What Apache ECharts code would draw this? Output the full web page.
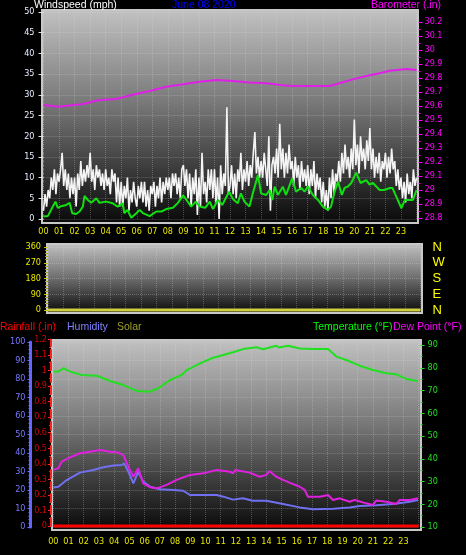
<!DOCTYPE html>
<html><head><meta charset="utf-8">
<script src="https://cdn.jsdelivr.net/npm/echarts@6/dist/echarts.min.js"></script>
<style>html,body{margin:0;padding:0;background:#000;}#c{width:466px;height:555px;}</style>
</head><body><div id="c"></div>
<script>
// ---------- DATA ----------
const hourLabels = ['00','01','02','03','04','05','06','07','08','09','10','11','12','13','14','15','16','17','18','19','20','21','22','23'];

// wind speed (mph), one sample every 6 minutes from 00:00 to 24:00
const windSpeed = [
 2,6,3,7,5,10,7,12,6,11,
 9,12,16,8,12,7,11,5,10,6,
 10,3,11,7,14,8,12,9,13,10,
 16,9,12,7,13,10,12,8,11,7,
 12,8,10,6,12,9,11,4,10,3,
 9,3,8,5,10,2,7,4,9,5,
 3,8,5,9,4,9,3,7,2,8,
 6,9,3,8,5,10,4,9,6,10,
 7,10,5,11,8,11,6,10,5,12,
 13,8,12,5,11,3,10,6,12,1,
 10,3,16,6,9,4,12,7,12,5,
 12,4,10,0,13,6,11,8,27,6,
 8,13,6,11,5,12,9,16,7,12,
 9,14,8,13,10,16,21,11,15,10,
 14,10,16,12,8,20,2,13,15,11,
 17,10,23,12,17,10,16,11,18,12,
 14,8,15,10,13,7,14,9,12,8,
 13,6,12,8,14,5,11,7,10,4,
 9,3,7,2,10,5,12,6,11,9,
 14,9,16,11,18,12,15,10,17,12,
 24,13,18,11,20,14,17,12,19,14,
 22,12,17,10,15,11,16,9,14,12,
 16,10,15,11,17,12,14,8,12,7,
 10,5,9,4,11,6,9,5,12,8,
 10
];

// average wind (mph) [hour, value]
const windAvg = [[0,0.6],[0.28,0.7],[0.6,3.0],[0.77,4.2],[0.92,2.7],[1.07,3.0],[1.46,3.4],[1.68,3.9],[1.85,1.4],[2.1,1.2],[2.32,1.8],[2.53,3.0],[2.64,5.6],[2.85,4.6],[3.07,3.9],[3.4,5.0],[3.6,3.9],[4.04,4.2],[4.45,3.8],[4.77,3.0],[5.1,3.8],[5.2,1.4],[5.4,2.2],[5.65,0.3],[5.97,1.4],[6.19,2.2],[6.4,1.4],[6.83,0.7],[7.26,1.8],[7.58,1.8],[7.9,2.4],[8.33,2.7],[8.65,3.9],[8.98,5.7],[9.2,4.6],[9.5,3.0],[9.8,4.2],[10.05,3.0],[10.4,2.7],[10.7,4.2],[10.9,2.4],[11.23,4.6],[11.5,3.4],[11.94,6.6],[12.2,4.8],[12.5,3.8],[12.7,6.2],[12.93,4.2],[13.25,3.0],[13.47,6.2],[13.8,10.6],[14.0,6.2],[14.33,5.8],[14.55,7.0],[14.72,4.6],[14.87,7.8],[15.08,5.8],[15.4,7.8],[15.6,5.8],[16.0,9.8],[16.25,6.6],[16.58,7.5],[16.8,6.6],[17.01,7.9],[17.33,5.8],[17.66,4.6],[17.98,3.0],[18.3,2.2],[18.5,3.0],[18.73,6.6],[18.95,9.0],[19.2,5.8],[19.37,7.5],[19.6,7.9],[19.8,8.7],[20.12,11.2],[20.4,8.7],[20.77,9.4],[20.98,8.3],[21.2,8.7],[21.63,7.0],[21.9,7.0],[22.3,7.5],[22.45,7.5],[22.7,5.4],[23.03,2.6],[23.25,4.6],[23.56,4.6],[23.77,4.6],[24,7.0]];

// barometer (in) [hour, value]
const barometer = [[0,29.607],[0.92,29.595],[2.53,29.614],[3.6,29.643],[4.68,29.65],[5.75,29.68],[6.83,29.707],[7.9,29.738],[8.98,29.755],[10.05,29.774],[11.13,29.786],[12.18,29.778],[13.25,29.767],[14.33,29.762],[15.4,29.748],[16.04,29.743],[17.0,29.743],[17.54,29.743],[18.4,29.743],[19.05,29.762],[19.9,29.79],[20.77,29.814],[21.63,29.834],[22.27,29.852],[23.35,29.864],[24,29.858]];

// wind direction (deg) [hour, value]
const windDir = [[0,0],[24,0]];

// temperature (F) [hour, value]
const temperature = [[0,78.3],[0.33,78.3],[0.66,79.8],[1.1,78.3],[1.87,76.8],[2.85,76.5],[3.73,74.2],[4.6,72.4],[5.48,69.8],[6.35,69.5],[6.9,71.0],[7.67,74.6],[8.44,76.8],[8.77,79.0],[9.64,81.9],[10.5,84.4],[11.17,85.6],[11.8,86.8],[12.46,88.2],[13.34,89.0],[13.78,88.1],[14.65,89.7],[14.8,88.9],[15.42,89.7],[16.19,88.5],[17.06,88.2],[18.05,88.2],[18.6,84.9],[19.25,83.4],[20.13,80.9],[21.0,79.0],[21.88,77.6],[22.54,77.1],[23.19,75.1],[23.96,74.2]];

// dew point (F) [hour, value]
const dewPoint = [[0,35.1],[0.33,35.8],[0.55,38.7],[1.1,40.6],[1.75,42.4],[2.4,43.1],[3.07,43.8],[3.73,43.1],[4.27,42.7],[4.6,41.6],[4.93,36.5],[5.26,32.1],[5.58,35.8],[5.91,29.2],[6.35,27.5],[6.79,27.0],[7.45,28.5],[8.1,30.7],[8.98,32.9],[9.86,33.6],[10.74,35.1],[11.6,34.3],[11.8,33.6],[11.97,35.1],[12.9,33.9],[13.56,32.1],[14.0,32.9],[14.2,34.6],[14.65,32.1],[15.09,30.7],[15.64,29.2],[16.19,27.7],[16.52,26.3],[16.73,23.3],[17.5,23.3],[18.05,24.1],[18.38,21.9],[18.81,22.6],[19.47,21.1],[19.8,21.9],[20.56,20.4],[21.0,19.7],[21.22,21.6],[21.88,21.1],[22.54,20.1],[22.76,21.9],[23.42,21.9],[23.96,22.6]];

// humidity (%) [hour, value]
const humidity = [[0,21.3],[0.33,21.8],[0.88,25.4],[1.75,29.4],[2.63,30.8],[3.29,32.3],[3.94,33.2],[4.49,33.5],[4.65,34.4],[4.93,29.9],[5.26,23.6],[5.58,29.9],[5.91,24.5],[6.35,21.8],[7.0,20.4],[7.88,20.0],[8.54,19.6],[8.98,17.3],[10.08,17.3],[10.73,17.3],[11.17,16.4],[11.8,14.8],[12.46,15.5],[13.1,14.2],[14.0,14.2],[15.09,12.4],[16.19,10.6],[17.06,9.6],[18.38,9.9],[19.47,10.6],[20.13,11.4],[21.22,11.7],[22.32,12.4],[23.42,13.7],[23.96,14.6]];

// rainfall (in) [hour, value]
const rainfall = [[0,0],[24,0]];

const compass = {0:'N',90:'E',180:'S',270:'W',360:'N'};

// ---------- CHART ----------
const chart = echarts.init(document.getElementById('c'), null, {renderer:'canvas'});
const NARROW = "'Liberation Sans Narrow','DejaVu Sans Condensed',sans-serif";
const SANS = "'Liberation Sans',Arial,sans-serif";
const grad = () => new echarts.graphic.LinearGradient(0,0,0,1,[
  {offset:0,color:'#c2c2c2'},{offset:0.45,color:'#767676'},{offset:1,color:'#080808'}]);
const split = {show:true,lineStyle:{color:'rgba(225,225,225,0.28)',type:'dotted',width:1}};
const hideAxis = (gi) => ({type:'value',gridIndex:gi,min:0,max:24,interval:1,show:false,axisLine:{onZero:false}});
const hourAxis = (gi, margin) => ({type:'value',gridIndex:gi,min:0,max:24,interval:1,
  axisLine:{show:false,onZero:false},axisTick:{show:false},splitLine:split,
  axisLabel:{color:'#e8e800',fontSize:9,fontFamily:NARROW,margin:margin,
    formatter:v=> v<24 ? hourLabels[Math.round(v)] : ''}});
const txt = (t,x,y,color,size,align) => ({type:'text',x:x,y:y,z:100,
  style:{text:t,fill:color,font:(size||10.5)+'px '+SANS,textAlign:align||'left',textVerticalAlign:'middle',verticalAlign:'middle'}});
const fmt1 = v => String(+(+v).toFixed(1));

const grids = [
  {left:43.5,top:12,width:373,height:207},      // 0 wind
  {left:43.5,top:22,width:373,height:196},      // 1 barometer
  {left:48,top:247,width:372.5,height:63},      // 2 direction
  {left:53.3,top:342,width:365.3,height:185},   // 3 humidity
  {left:53.3,top:339.4,width:365.3,height:186.6},// 4 rain
  {left:53.3,top:345,width:365.3,height:182}    // 5 temperature
].map(g=>Object.assign({containLabel:false,outerBoundsMode:'none'},g));

const option = {
  animation:false,
  backgroundColor:'#000',
  grid:grids,
  xAxis:[hourAxis(0,8),hideAxis(1),
    {type:'value',gridIndex:2,min:0,max:24,interval:1,axisLine:{show:false,onZero:false},axisTick:{show:false},axisLabel:{show:false},splitLine:split},
    hourAxis(3,10),hideAxis(4),hideAxis(5)],
  yAxis:[
    {type:'value',gridIndex:0,min:0,max:50,interval:5,axisLine:{show:false,onZero:false},
     axisTick:{show:true,length:5,lineStyle:{color:'#e0e0e0'}},
     minorTick:{show:true,splitNumber:5,length:2,lineStyle:{color:'#c0c0c0'}},
     axisLabel:{color:'#e8ecff',fontSize:9,fontFamily:NARROW,margin:9},splitLine:split},
    {type:'value',gridIndex:1,position:'right',offset:2,min:28.8,max:30.2,interval:0.1,axisLine:{show:false,onZero:false},
     axisTick:{show:true,length:4,lineStyle:{color:'#ff00ff'}},
     minorTick:{show:true,splitNumber:2,length:2,lineStyle:{color:'#ff00ff'}},
     axisLabel:{color:'#ff00ff',fontSize:9,fontFamily:NARROW,margin:6,formatter:fmt1},splitLine:{show:false}},
    {type:'value',gridIndex:2,min:0,max:360,interval:90,axisLine:{show:false,onZero:false},
     axisTick:{show:true,length:4,lineStyle:{color:'#c8c800'}},
     minorTick:{show:true,splitNumber:5,length:3,lineStyle:{color:'#a8a800'}},
     axisLabel:{color:'#e8e800',fontSize:9,fontFamily:NARROW,margin:7},splitLine:split},
    {type:'value',gridIndex:2,position:'right',min:0,max:360,interval:90,axisLine:{show:false,onZero:false},axisTick:{show:false},
     axisLabel:{color:'#ffff00',fontSize:13,fontFamily:SANS,margin:12,formatter:v=>compass[v]||''},splitLine:{show:false}},
    {type:'value',gridIndex:3,position:'left',offset:22.8,min:0,max:100,interval:10,
     axisLine:{show:true,onZero:false,lineStyle:{color:'#6464ff',width:3}},
     axisTick:{show:true,length:3,lineStyle:{color:'#7070ff'}},
     minorTick:{show:true,splitNumber:5,length:2,lineStyle:{color:'#7070ff'}},
     axisLabel:{color:'#7878ff',fontSize:9,fontFamily:NARROW,margin:5},splitLine:split},
    {type:'value',gridIndex:4,position:'left',offset:2.3,min:0,max:1.2,interval:0.1,
     axisLine:{show:true,onZero:false,lineStyle:{color:'#ff2020',width:2,type:'dashed'}},
     axisTick:{show:true,length:3,lineStyle:{color:'#ff2020'}},
     minorTick:{show:true,splitNumber:2,length:2,lineStyle:{color:'#ff2020'}},
     axisLabel:{color:'#d80000',fontSize:9,fontFamily:NARROW,margin:4,formatter:fmt1},splitLine:{show:false}},
    {type:'value',gridIndex:5,position:'right',offset:2,min:10,max:90,interval:10,axisLine:{show:false,onZero:false},
     axisTick:{show:true,length:4,lineStyle:{color:'#20e020'}},
     minorTick:{show:true,splitNumber:2,length:2,lineStyle:{color:'#20e020'}},
     axisLabel:{color:'#20e020',fontSize:9,fontFamily:NARROW,margin:7},splitLine:{show:false}}
  ],
  graphic:{elements:[
    {type:'rect',z:-10,shape:{x:42,y:10,width:376,height:213},style:{fill:grad(),stroke:'#c8c8c8',lineWidth:2}},
    {type:'rect',z:-10,shape:{x:47,y:244,width:375,height:69},style:{fill:grad(),stroke:'#c8c8c8',lineWidth:2}},
    {type:'rect',z:-10,shape:{x:52,y:340,width:369,height:190},style:{fill:grad(),stroke:'#c8c8c8',lineWidth:2}},
    txt('Windspeed (mph)',34,5.5,'#ffffff'),
    txt('June 08 2020',172,5.5,'#0000ff'),
    txt('Barometer (.in)',371,5.5,'#ff00ff'),
    txt('Rainfall (.in)',0,327.5,'#ff0000'),
    txt('Humidity',67,327.5,'#8080ff'),
    txt('Solar',117,327.5,'#a0a028'),
    txt('Temperature (\u00b0F)',313,327.5,'#00ff00'),
    txt('Dew Point (\u00b0F)',393,327.5,'#ff00ff')
  ]},
  series:[
    {name:'Wind Speed',type:'line',xAxisIndex:0,yAxisIndex:0,showSymbol:false,
     data:windSpeed.map((v,i)=>[i/10,v]),lineStyle:{color:'#f4f4f4',width:1.6},itemStyle:{color:'#f4f4f4'}},
    {name:'Wind Avg',type:'line',xAxisIndex:0,yAxisIndex:0,showSymbol:false,
     data:windAvg,lineStyle:{color:'#10e010',width:2},itemStyle:{color:'#10e010'}},
    {name:'Barometer',type:'line',xAxisIndex:1,yAxisIndex:1,showSymbol:false,
     data:barometer,lineStyle:{color:'#e020e8',width:2},itemStyle:{color:'#e020e8'}},
    {name:'Wind Direction',type:'line',xAxisIndex:2,yAxisIndex:2,showSymbol:false,clip:false,
     data:windDir,lineStyle:{color:'#d0d040',width:3},itemStyle:{color:'#d0d040'}},
    {name:'Humidity',type:'line',xAxisIndex:3,yAxisIndex:4,showSymbol:false,
     data:humidity,lineStyle:{color:'#7070f0',width:2},itemStyle:{color:'#7070f0'}},
    {name:'Dew Point',type:'line',xAxisIndex:5,yAxisIndex:6,showSymbol:false,
     data:dewPoint,lineStyle:{color:'#e020e0',width:2},itemStyle:{color:'#e020e0'}},
    {name:'Temperature',type:'line',xAxisIndex:5,yAxisIndex:6,showSymbol:false,
     data:temperature,lineStyle:{color:'#20e020',width:2},itemStyle:{color:'#20e020'}},
    {name:'Rainfall',type:'line',xAxisIndex:4,yAxisIndex:5,showSymbol:false,clip:false,
     data:rainfall,lineStyle:{color:'#ff0000',width:3},itemStyle:{color:'#ff0000'}}
  ]
};
chart.setOption(option);
</script></body></html>
